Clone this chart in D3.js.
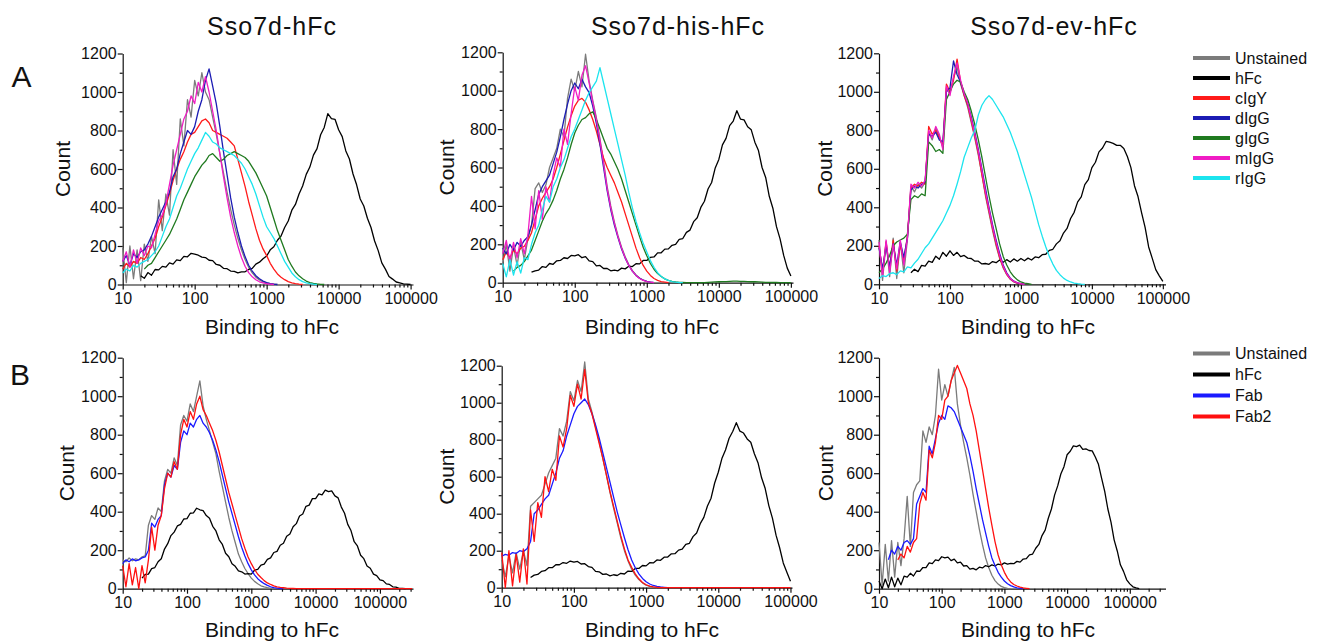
<!DOCTYPE html>
<html>
<head>
<meta charset="utf-8">
<script src="https://cdn.jsdelivr.net/npm/d3@7/dist/d3.min.js"></script>
<style>
  body { margin: 0; background: #fff; }
  svg text { font-family: Arial, "Liberation Sans", sans-serif; fill: #111; }
</style>
</head>
<body>
<svg id="chart" width="1331" height="641"></svg>
<script>
// histogram bins: log10(fluorescence) = 1 + i * BIN, i = index in each array
const BIN = 0.05;

const titles = ["Sso7d-hFc", "Sso7d-his-hFc", "Sso7d-ev-hFc"];
const rowLabels = ["A", "B"];
const seriesA = ["Unstained", "hFc", "cIgY", "dIgG", "gIgG", "mIgG", "rIgG"];
const seriesB = ["Unstained", "hFc", "Fab", "Fab2"];
const colorsA = ["#7b7b7b", "#000000", "#ff1a1a", "#1c1cb4", "#1f7a1f", "#f01cc4", "#1ce4ee"];
const colorsB = ["#7b7b7b", "#000000", "#1a1aff", "#ff1010"];
const yTicks = [0, 200, 400, 600, 800, 1000, 1200];
const xTicks = [10, 100, 1000, 10000, 100000];

// ---- row A, Sso7d-hFc
const a1Unstained = [190,10,200,30,180,20,210,120,250,160, 440,280,470,360,700,520,860,720,960,870, 1060,980,1100,1000,960,870,780,680,580,480, 390,310,240,180,130,90,60,38,24,14, 8,4,2,0];
const a1hFc = [null,null,null,null,null,45,32,62,48,78, 76,94,90,112,106,128,124,146,144,162, 158,152,142,140,126,124,104,100,84,82, 70,68,60,66,66,78,84,106,116,134, 148,180,196,230,252,296,330,386,416,470, 512,572,610,672,706,778,816,888,862,858, 804,768,694,652,574,518,444,408,344,296, 226,176,112,80,42,28,13,9,3,2, 0];
const a1cIgY = [80,110,90,120,110,140,130,160,200,240, 300,350,410,470,540,600,650,690,740,780, 790,820,850,860,840,800,790,780,770,760, 740,720,650,580,510,430,360,290,230,185, 150,110,80,55,38,25,15,9,5,2, 0];
const a1dIgG = [120,150,100,160,140,170,180,210,250,300, 350,390,430,480,560,600,680,740,800,780, 820,900,960,1060,1120,1030,940,820,690,570, 450,350,270,200,145,100,70,46,30,18, 10,5,2,0];
const a1gIgG = [null,null,null,null,null,null,80,100,110,140, 170,200,230,260,300,340,390,440,480,520, 560,590,620,640,670,680,660,640,650,670, 680,690,680,670,660,640,610,580,540,500, 460,400,340,280,230,180,130,95,65,45, 30,18,10,6,3,1,0];
const a1mIgG = [120,170,90,180,110,190,150,200,190,260, 330,360,420,520,620,700,780,860,900,980, 940,1050,1000,1080,1000,900,800,680,560,450, 350,270,200,140,95,62,40,25,14,8, 4,2,0];
const a1rIgG = [60,80,70,100,90,110,120,130,150,170, 200,250,300,340,400,460,500,550,600,640, 680,710,750,790,770,740,730,710,700,690, 680,670,650,630,600,560,520,470,410,350, 300,270,240,200,160,120,90,60,40,25, 15,9,5,2,0];

// ---- row A, Sso7d-his-hFc
const a2Unstained = [100,200,60,190,90,210,120,230,300,490, 520,470,510,600,650,700,800,760,960,1060, 1000,1100,1020,1190,1050,950,860,750,630,500, 400,315,245,185,135,95,62,40,24,14, 7,3,0];
const a2hFc = [null,null,null,null,null,null,null,null,55,62, 66,84,80,100,96,114,116,130,126,142, 140,146,130,136,114,110,88,90,74,74, 62,66,62,76,72,86,84,99,98,116, 116,132,134,155,156,175,176,195,200,226, 230,262,274,318,338,392,424,488,522,598, 642,718,752,818,842,896,852,848,812,796, 732,688,600,548,450,388,292,228,142,76, 35];
const a2cIgY = [120,160,130,170,150,180,190,220,260,330, 400,440,470,500,540,600,670,740,810,870, 920,950,960,940,900,850,790,720,650,600, 560,520,470,420,360,300,240,180,130,90, 60,38,22,12,6,3,0];
const a2dIgG = [180,150,200,170,210,190,220,240,300,380, 460,500,530,560,620,680,760,850,930,1000, 1040,1010,1060,1020,990,920,830,720,600,480, 380,300,235,175,128,90,60,38,23,13, 7,3,0];
const a2gIgG = [null,null,null,60,80,90,110,140,170,220, 270,320,360,390,430,480,540,590,650,720, 780,820,850,860,880,890,850,800,750,700, 670,630,590,540,480,420,360,300,240,185, 140,100,70,48,32,20,12,7,4,2, 1,0,0,0,0,0,0,2,3,4, 5,6,6,7,8,8,7,7,6,5, 5,4,3,2,2,1,1,0,0,0, 0];
const a2mIgG = [150,220,110,210,130,230,150,250,450,280, 480,330,500,420,560,650,600,800,720,880, 1020,950,1080,1130,1040,940,850,740,620,490, 390,310,240,180,130,90,60,38,22,12, 6,3,0];
const a2rIgG = [100,30,120,40,110,50,130,120,200,260, 300,380,450,420,500,540,600,640,700,760, 800,850,900,950,990,1020,1050,1120,1040,960, 880,800,720,640,560,470,390,320,260,205, 160,115,80,52,32,20,12,6,3,1, 0];

// ---- row A, Sso7d-ev-hFc
const a3Unstained = [230,20,220,40,240,30,220,60,230,510, 480,520,500,530,790,750,810,770,710,1020, 990,1070,1130,1040,980,920,840,760,670,570, 460,370,280,200,135,85,50,26,12,5, 2,0];
const a3hFc = [null,null,null,null,null,null,null,null,null,60, 78,66,98,94,120,114,146,130,166,146, 174,150,166,144,150,136,134,120,120,106, 108,104,118,112,126,114,128,116,132,120, 134,122,136,126,142,138,154,156,176,182, 210,226,266,290,342,374,428,454,518,544, 606,634,688,708,742,738,732,722,722,706, 664,606,512,456,372,296,194,136,76,44, 15];
const a3cIgY = [200,60,220,80,230,70,210,120,250,500, 520,510,530,520,820,780,800,760,720,1040, 1000,1060,1170,1050,980,930,850,770,680,570, 470,380,290,210,140,90,52,28,14,6, 2,0];
const a3dIgG = [190,80,200,90,210,100,220,140,240,490, 510,500,520,530,780,770,790,750,740,1000, 1020,1160,1090,1050,990,940,870,790,700,600, 500,400,310,230,160,100,60,32,16,8, 3,0];
const a3gIgG = [60,80,110,150,200,220,230,240,260,440, 460,450,470,460,740,720,690,700,680,960, 1000,1040,1060,1050,1000,960,900,830,750,660, 560,460,370,290,210,145,100,65,40,23, 12,6,3,0];
const a3mIgG = [220,40,230,60,210,80,230,100,240,520, 500,530,510,540,800,760,820,780,700,1030, 980,1080,1150,1060,990,940,860,780,690,590, 480,390,300,220,150,95,55,30,15,7, 3,0];
const a3rIgG = [30,45,40,55,60,50,70,65,90,85, 110,130,160,190,210,240,270,300,330,370, 410,460,520,585,660,710,760,800,880,930, 960,980,960,930,900,870,830,790,740,690, 630,570,510,450,380,310,250,195,145,105, 72,50,32,20,12,6,3,1,0];

// ---- row B, Sso7d-hFc
const b1Unstained = [150,140,160,145,155,150,165,170,330,380, 360,420,400,560,620,600,680,640,850,900, 870,960,920,1000,1080,950,880,820,760,700, 610,530,450,370,300,240,180,140,105,78, 55,38,26,15,9,5,2,0];
const b1hFc = [null,null,null,null,null,null,55,74,76,104, 110,140,156,206,234,276,294,326,334,362, 364,392,394,418,410,406,380,366,324,300, 254,230,184,166,130,116,92,88,76,78, 76,96,100,122,128,152,160,188,194,226, 236,272,284,322,338,378,388,428,434,468, 468,492,488,512,504,508,482,472,424,392, 334,302,244,222,174,156,118,106,76,68, 46,42,25,22,10,8,2,2,0];
const b1Fab = [130,150,140,155,145,150,160,165,200,340, 320,360,380,540,600,580,640,620,760,820, 800,860,840,880,900,860,840,810,770,720, 660,590,520,450,390,330,270,215,170,130, 98,72,52,38,26,17,10,6,3,1, 0];
const b1Fab2 = [120,10,130,20,110,0,120,30,150,320, 200,330,380,520,600,580,660,620,800,880, 840,920,880,960,1000,930,900,860,820,770, 710,640,570,500,440,380,320,260,210,165, 130,100,75,58,42,30,22,15,10,7, 5,3,2,1,0,0,0,0,0,0, 0,0,0,0,0,0,0,0,0,0, 0,0,0,0,0,0,0,0,0,0, 0,0,0,0,0,0,0,0,0,0,0];

// ---- row B, Sso7d-his-hFc
const b2Unstained = [150,60,170,80,190,100,200,120,440,460, 480,500,560,620,660,700,860,820,900,1060, 1010,1120,1060,1220,1020,950,870,790,700,610, 515,430,350,270,200,145,100,68,44,26, 14,7,3,0];
const b2hFc = [null,null,null,null,null,null,null,null,55,68, 72,88,92,108,108,124,124,136,132,144, 138,142,128,130,114,110,88,86,72,74, 64,70,66,78,74,90,88,104,104,120, 118,135,134,150,148,165,166,183,184,203, 208,234,240,276,296,346,380,442,484,566, 624,698,744,808,844,892,846,836,804,786, 724,676,594,536,444,376,284,216,134,84, 35];
const b2Fab = [170,180,175,190,185,200,195,210,250,400, 420,450,480,500,560,620,700,740,820,880, 940,980,1000,1020,990,940,880,810,730,650, 570,490,410,340,270,205,150,108,75,50, 32,20,12,7,4,2,0];
const b2Fab2 = [190,0,200,10,180,30,210,20,420,250, 460,380,600,520,640,580,820,760,860,1040, 980,1100,1020,1180,1000,940,860,780,700,610, 520,440,360,280,210,150,110,75,48,28, 16,9,4,2,0,0,0,0,0,0, 0,0,0,0,0,0,0,0,0,0, 0,0,0,0,0,0,0,0,0,0, 0,0,0,0,0,0,0,0,0,0, 0];

// ---- row B, Sso7d-ev-hFc
const b3Unstained = [240,20,230,40,250,60,240,120,260,480, 220,500,540,560,820,760,840,800,900,1140, 980,1060,1000,1080,1150,960,850,760,680,590, 490,400,310,230,160,110,70,42,24,12, 6,2,0];
const b3hFc = [40,0,50,5,60,10,55,20,65,60, 80,66,92,90,110,110,134,130,150,146, 166,160,164,146,154,134,138,118,120,102, 106,98,112,108,120,114,124,118,128,124, 134,128,132,130,142,138,154,156,176,180, 210,230,276,304,366,414,486,534,596,634, 696,714,742,738,746,724,726,718,716,684, 646,574,506,414,346,254,196,124,90,46, 25,10,4,0];
const b3Fab = [null,null,null,150,200,180,220,200,240,250, 230,260,440,480,520,500,740,700,780,860, 900,880,950,940,920,880,840,800,760,690, 610,520,440,360,290,220,160,120,85,60, 40,26,16,9,4,2,0];
const b3Fab2 = [null,null,null,null,null,null,150,180,160,220, 190,240,260,440,500,460,720,680,760,900, 880,980,1000,1080,1120,1160,1120,1080,1040,960, 900,820,720,620,520,420,330,245,175,125, 85,55,35,22,14,8,4,2,0];

const panelData = [
  [a1Unstained, a1hFc, a1cIgY, a1dIgG, a1gIgG, a1mIgG, a1rIgG],
  [a2Unstained, a2hFc, a2cIgY, a2dIgG, a2gIgG, a2mIgG, a2rIgG],
  [a3Unstained, a3hFc, a3cIgY, a3dIgG, a3gIgG, a3mIgG, a3rIgG],
  [b1Unstained, b1hFc, b1Fab, b1Fab2],
  [b2Unstained, b2hFc, b2Fab, b2Fab2],
  [b3Unstained, b3hFc, b3Fab, b3Fab2]
];

// pixel layout of each panel (plot box, x-axis end value, label anchors)
const layout = [
  { x0: 122.7, x1: 413, xMax: 108000, y0: 284.5, y1: 53.5, titleX: 272, labelX: 272, countX: 63 },
  { x0: 502.7, x1: 793, xMax: 107000, y0: 282.7, y1: 52.3, titleX: 678, labelX: 652, countX: 447 },
  { x0: 879, x1: 1165.5, xMax: 109000, y0: 284.3, y1: 53.3, titleX: 1054, labelX: 1028, countX: 825 },
  { x0: 122.7, x1: 413, xMax: 327000, y0: 588.7, y1: 357.7, labelX: 272, countX: 67 },
  { x0: 501.7, x1: 792, xMax: 105000, y0: 587.7, y1: 365.7, labelX: 652, countX: 447 },
  { x0: 879, x1: 1165.5, xMax: 371000, y0: 588.7, y1: 357.7, labelX: 1028, countX: 826 }
];

const svg = d3.select("#chart");
const font = 'Arial, "Liberation Sans", sans-serif';

function styleAxis(sel) {
  sel.attr("font-size", 16).attr("font-family", font).style("color", "#111");
  sel.selectAll("line, path").attr("stroke-width", 1.2);
}

layout.forEach((p, idx) => {
  const rowB = idx >= 3;
  const colors = rowB ? colorsB : colorsA;
  const x = d3.scaleLog().domain([10, p.xMax]).range([p.x0, p.x1]);
  const y = d3.scaleLinear().domain([0, 1200]).range([p.y0, p.y1]);
  const g = svg.append("g");

  // minor ticks first, then the main axes with labels
  g.append("g").attr("transform", `translate(${p.x0},0)`)
    .call(d3.axisLeft(y).tickValues(d3.range(100, 1200, 200)).tickSize(3).tickFormat(""))
    .call(styleAxis).select(".domain").remove();
  g.append("g").attr("transform", `translate(0,${p.y0})`)
    .call(d3.axisBottom(x).tickValues(x.ticks().filter(t => xTicks.indexOf(Math.round(t)) < 0)).tickSize(3).tickFormat(""))
    .call(styleAxis).select(".domain").remove();

  g.append("g").attr("transform", `translate(${p.x0},0)`)
    .call(d3.axisLeft(y).tickValues(yTicks).tickSize(5).tickSizeOuter(0).tickPadding(1).tickFormat(d3.format("d")))
    .call(styleAxis);
  g.append("g").attr("transform", `translate(0,${p.y0})`)
    .call(d3.axisBottom(x).tickValues(xTicks).tickSize(5).tickSizeOuter(0).tickPadding(3).tickFormat(d3.format("d")))
    .call(styleAxis);

  const line = d3.line()
    .defined(d => d[1] != null)
    .x(d => x(d[0]))
    .y(d => y(d[1]));

  panelData[idx].forEach((vals, k) => {
    const pts = vals.map((v, i) => [Math.pow(10, 1 + i * BIN), v]);
    g.append("path").datum(pts)
      .attr("d", line)
      .attr("fill", "none")
      .attr("stroke", colors[k])
      .attr("stroke-width", 1.3)
      .attr("stroke-linejoin", "round");
  });

  g.append("text")
    .attr("transform", `translate(${p.countX},${(p.y0 + p.y1) / 2}) rotate(-90)`)
    .attr("text-anchor", "middle").attr("dy", "0.35em")
    .style("font-size", "21px").text("Count");

  g.append("text")
    .attr("x", p.labelX).attr("y", rowB ? 637 : 334)
    .attr("text-anchor", "middle")
    .style("font-size", "21px").text("Binding to hFc");

  if (!rowB) {
    g.append("text")
      .attr("x", p.titleX).attr("y", 35)
      .attr("text-anchor", "middle")
      .style("font-size", "25px").style("letter-spacing", "1px")
      .text(titles[idx]);
  }
});

svg.append("text").attr("x", 11.5).attr("y", 86.5).style("font-size", "30px").text(rowLabels[0]);
svg.append("text").attr("x", 10).attr("y", 385).style("font-size", "30px").text(rowLabels[1]);

function drawLegend(names, colors, top, gap) {
  const row = svg.append("g").selectAll("g").data(names).join("g")
    .attr("transform", (d, i) => `translate(1193,${top + i * gap})`);
  row.append("line").attr("x1", 0).attr("x2", 37)
    .attr("stroke", (d, i) => colors[i]).attr("stroke-width", 4);
  row.append("text").attr("x", 42).attr("dy", "0.35em")
    .style("font-size", "16px").text(d => d);
}

drawLegend(seriesA, colorsA, 58, 20);
drawLegend(seriesB, colorsB, 353.5, 21);
</script>
</body>
</html>
